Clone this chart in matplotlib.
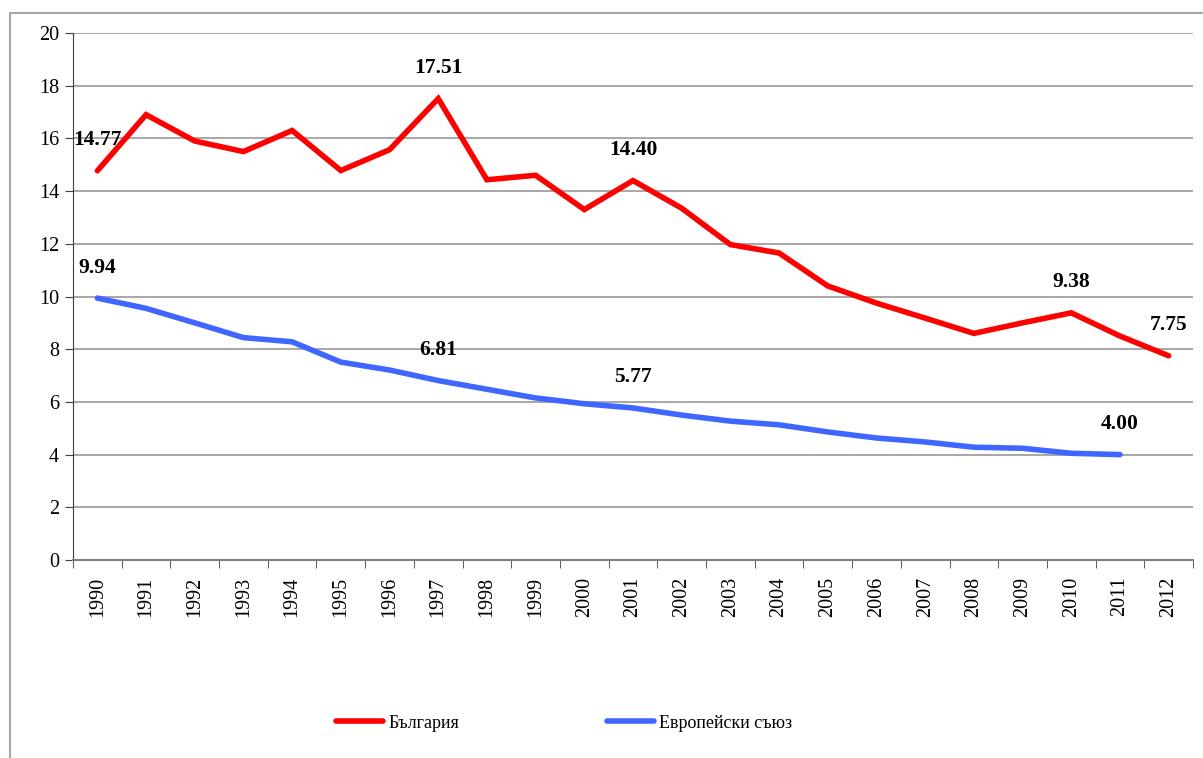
import matplotlib.pyplot as plt
from matplotlib.patches import Rectangle
import numpy as np

# data
years = [str(y) for y in range(1990, 2013)]
bulgaria = [14.77, 16.9, 15.9, 15.5, 16.3, 14.78, 15.57, 17.51, 14.43, 14.6, 13.3, 14.40,
            13.35, 11.97, 11.65, 10.4, 9.75, 9.18, 8.6, 9.0, 9.38, 8.5, 7.75]
eu = [9.94, 9.55, 9.0, 8.44, 8.28, 7.51, 7.21, 6.81, 6.48, 6.15, 5.93, 5.77,
      5.5, 5.27, 5.13, 4.86, 4.63, 4.48, 4.28, 4.24, 4.05, 4.00]
bg_labeled = [0, 7, 11, 20, 22]
eu_labeled = [0, 7, 11, 21]

plt.rcParams['font.family'] = ['Liberation Serif', 'DejaVu Serif']

fig = plt.figure(figsize=(12.03, 7.58), dpi=100)
ax = fig.add_axes([73 / 1203, 1 - 560 / 758, (1193 - 73) / 1203, (560 - 33) / 758])

# outer chart border
fig.patches.append(Rectangle((10 / 1203, -0.1), 1.2, 1 - 13 / 758 + 0.1,
                             transform=fig.transFigure, fill=False,
                             edgecolor='#a6a6a6', linewidth=1.5))

x = np.arange(len(years))
ax.plot(x, bulgaria, color='#ff0000', linewidth=4, label='България',
        solid_capstyle='round', solid_joinstyle='miter', zorder=3)
ax.plot(x[:len(eu)], eu, color='#3f67ff', linewidth=4, label='Европейски съюз',
        solid_capstyle='round', solid_joinstyle='miter', zorder=3)

for i in bg_labeled:
    ax.annotate('%.2f' % bulgaria[i], (x[i], bulgaria[i]), xytext=(0, 22),
                textcoords='offset points', ha='center', va='center',
                fontsize=15.5, fontweight='bold')
for i in eu_labeled:
    ax.annotate('%.2f' % eu[i], (x[i], eu[i]), xytext=(0, 22),
                textcoords='offset points', ha='center', va='center',
                fontsize=15.5, fontweight='bold')

ax.set_ylim(0, 20)
ax.set_xlim(-0.5, len(years) - 0.5)
ax.set_yticks(np.arange(0, 21, 2))
ax.yaxis.grid(True, color='#a0a0a0', linewidth=1.3)
ax.set_axisbelow(True)

ax.set_xticks(x)
ax.set_xticklabels(years, rotation=90, fontsize=14.5)
ax.set_xticks(np.arange(-0.5, len(years), 1), minor=True)
ax.tick_params(axis='x', which='major', length=0, pad=12)
ax.tick_params(axis='x', which='minor', length=6, color='#404040')
ax.tick_params(axis='y', labelsize=14.5, length=6, color='#404040', pad=4)

for side in ['top', 'right']:
    ax.spines[side].set_visible(False)
ax.spines['left'].set_color('#404040')
ax.spines['bottom'].set_color('#808080')
ax.spines['bottom'].set_linewidth(1.5)

fig.legend(loc='center', bbox_to_anchor=(564 / 1203, 1 - 723 / 758), ncol=2,
           frameon=False, fontsize=13, handlelength=2.6, handletextpad=0.3,
           columnspacing=8.2)

fig.savefig('out.png', dpi=100)
